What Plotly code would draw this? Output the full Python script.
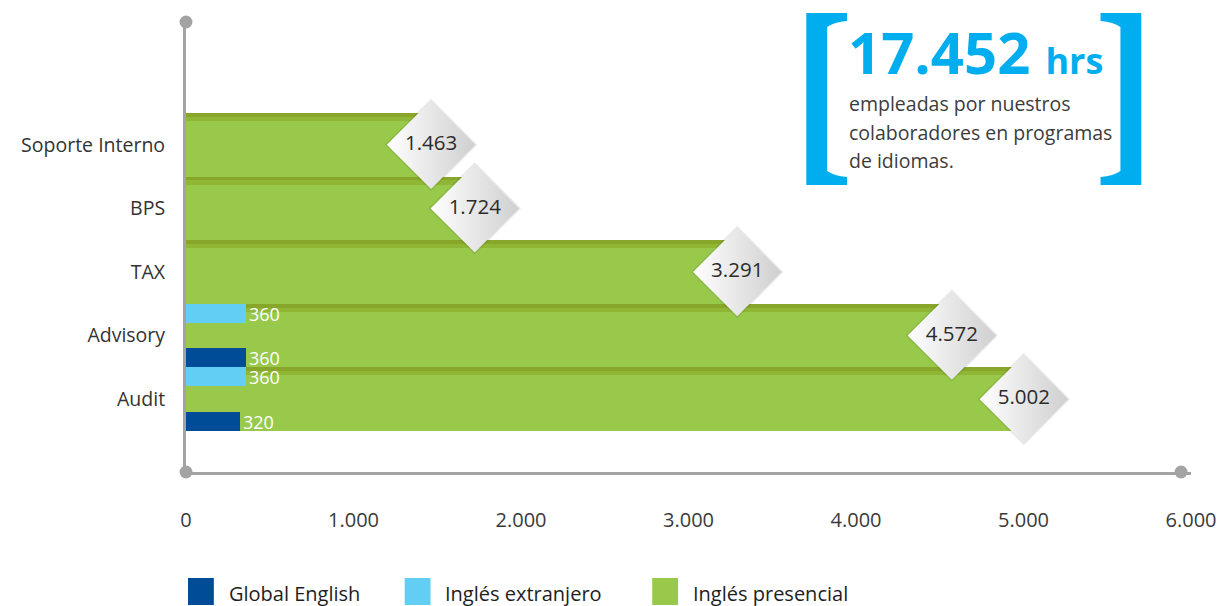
import plotly.graph_objects as go

# Horas de formación en idiomas por área
categories = ["Soporte Interno", "BPS", "TAX", "Advisory", "Audit"]
ingles_presencial = [1463, 1724, 3291, 4572, 5002]
ingles_extranjero = [None, None, None, 360, 360]
global_english = [None, None, None, 360, 320]
x_ticks = [0, 1000, 2000, 3000, 4000, 5000, 6000]

series_names = ["Global English", "Inglés extranjero", "Inglés presencial"]
series_colors = ["#014C97", "#62CEF4", "#98C94B"]
callout_lines = ["empleadas por nuestros", "colaboradores en programas", "de idiomas."]

FONT = "Open Sans"
BLUE_ACCENT = "#00AEEF"
AXIS_GRAY = "#A3A3A3"

W, H = 1229, 606
ML, MR, MT, MB = 186, 32, 22, 134
PW = W - ML - MR
PH = H - MT - MB


def px(x):
    return (x - ML) / PW


def py(y):
    return (H - MB - y) / PH


def path(cmds):
    out = []
    for c in cmds:
        op, pts = c[0], c[1:]
        coords = []
        for i in range(0, len(pts), 2):
            coords.append(f"{px(pts[i]):.5f},{py(pts[i + 1]):.5f}")
        out.append(op + " ".join(coords))
    return " ".join(out) + " Z"


def fmt(v):
    return f"{v:,}".replace(",", ".")


total_hours = sum(v for s in (ingles_presencial, ingles_extranjero, global_english) for v in s if v)

fig = go.Figure()

# main green bands
fig.add_trace(go.Bar(
    y=categories, x=ingles_presencial, orientation="h", name=series_names[2],
    width=1.0, offset=-0.5, marker=dict(color=series_colors[2], line=dict(width=0)),
    hoverinfo="skip", showlegend=False,
))
# darker top edge of each band
for off, col in ((-0.5, "#87A62A"), (-0.44, "#90B636")):
    fig.add_trace(go.Bar(
        y=categories, x=ingles_presencial, orientation="h",
        width=0.065, offset=off, marker=dict(color=col, line=dict(width=0)),
        hoverinfo="skip", showlegend=False,
    ))

# small blue bars
fig.add_trace(go.Bar(
    y=categories, x=ingles_extranjero, orientation="h", name=series_names[1],
    width=0.3, offset=-0.5, marker=dict(color=series_colors[1], line=dict(width=0)),
    texttemplate="%{x:,}", textposition="outside", cliponaxis=False, constraintext="none",
    textfont=dict(family=FONT, size=18, color="white"),
    hoverinfo="skip", showlegend=False,
))
fig.add_trace(go.Bar(
    y=categories, x=global_english, orientation="h", name=series_names[0],
    width=0.3, offset=0.2, marker=dict(color=series_colors[0], line=dict(width=0)),
    texttemplate="%{x:,}", textposition="outside", cliponaxis=False, constraintext="none",
    textfont=dict(family=FONT, size=18, color="white"),
    hoverinfo="skip", showlegend=False,
))

# diamond value labels
fig.add_trace(go.Scatter(
    x=ingles_presencial, y=categories, mode="markers",
    marker=dict(symbol="diamond", size=71, color="rgba(0,0,0,0.09)", line=dict(width=0)),
    hoverinfo="skip", showlegend=False, cliponaxis=False,
))
fig.add_trace(go.Scatter(
    x=ingles_presencial, y=categories, mode="markers+text",
    marker=dict(symbol="diamond", size=68, color="white",
                gradient=dict(type="horizontal", color="#CFCFCF"), line=dict(width=0)),
    texttemplate="%{x:,}", textposition="middle center",
    textfont=dict(family=FONT, size=20.5, color="#2B2B2B"),
    hoverinfo="skip", showlegend=False, cliponaxis=False,
))

shapes = []
# axis end dots
for cx, cy in ((186, 22), (186, 472), (1187, 472)):
    r = 6.5
    shapes.append(dict(type="circle", xref="paper", yref="paper",
                       x0=px(cx - r), x1=px(cx + r), y0=py(cy + r), y1=py(cy - r),
                       fillcolor=AXIS_GRAY, line=dict(width=0), layer="above"))

# callout brackets
left_bracket = [("M", 810, 13), ("L", 851, 13), ("L", 851, 21), ("Q", 838, 22, 831, 27),
                ("L", 831, 171), ("Q", 838, 176, 851, 177), ("L", 851, 185), ("L", 810, 185)]
right_bracket = [("M", 1147, 13), ("L", 1106, 13), ("L", 1106, 21), ("Q", 1119, 22, 1126, 27),
                 ("L", 1126, 171), ("Q", 1119, 176, 1106, 177), ("L", 1106, 185), ("L", 1147, 185)]
for br in (left_bracket, right_bracket):
    shapes.append(dict(type="path", xref="paper", yref="paper", path=path(br),
                       fillcolor=BLUE_ACCENT, line=dict(width=0)))

# legend swatches
legend_x = [188, 406, 655]
for name, col, lx in zip(series_names, series_colors, legend_x):
    shapes.append(dict(type="rect", xref="paper", yref="paper",
                       x0=px(lx), x1=px(lx + 26), y0=py(605), y1=py(578),
                       fillcolor=col, line=dict(width=0)))

annotations = []
annotations.append(dict(
    xref="paper", yref="paper", x=px(850), y=py(52), xanchor="left", yanchor="middle",
    text=f"<b>{fmt(total_hours)} <span style='font-size:36px'>hrs</span></b>",
    showarrow=False, font=dict(family=FONT, size=58, color=BLUE_ACCENT),
))
for i, line in enumerate(callout_lines):
    annotations.append(dict(
        xref="paper", yref="paper", x=px(851), y=py(104 + 28 * i), xanchor="left", yanchor="middle",
        text=line, showarrow=False, font=dict(family=FONT, size=19.5, color="#3C3C3C"),
    ))
for name, lx in zip(series_names, legend_x):
    annotations.append(dict(
        xref="paper", yref="paper", x=px(lx + 39), y=py(593), xanchor="left", yanchor="middle",
        text=name, showarrow=False, font=dict(family=FONT, size=20, color="#1E1E1E"),
    ))

fig.update_layout(
    width=W, height=H,
    margin=dict(l=ML, r=MR, t=MT, b=MB, pad=0),
    paper_bgcolor="white", plot_bgcolor="white",
    barmode="overlay", bargap=0,
    separators=",.",
    showlegend=False,
    hovermode=False,
    font=dict(family=FONT, size=19, color="#333333"),
    shapes=shapes,
    annotations=annotations,
    xaxis=dict(
        range=[0, 6000], tickvals=x_ticks, tickformat=",",
        showgrid=False, zeroline=False,
        showline=True, linecolor=AXIS_GRAY, linewidth=3,
        ticks="", ticklabelstandoff=28,
        tickfont=dict(family=FONT, size=20, color="#3A3A3A"),
        fixedrange=True,
    ),
    yaxis=dict(
        type="category", categoryorder="array", categoryarray=categories,
        range=[5.145, -1.931],
        showgrid=False, zeroline=False,
        showline=True, linecolor=AXIS_GRAY, linewidth=3,
        ticks="", ticklabelstandoff=14,
        tickfont=dict(family=FONT, size=19.5, color="#333333"),
        fixedrange=True,
    ),
)

fig.write_html("out.html")
